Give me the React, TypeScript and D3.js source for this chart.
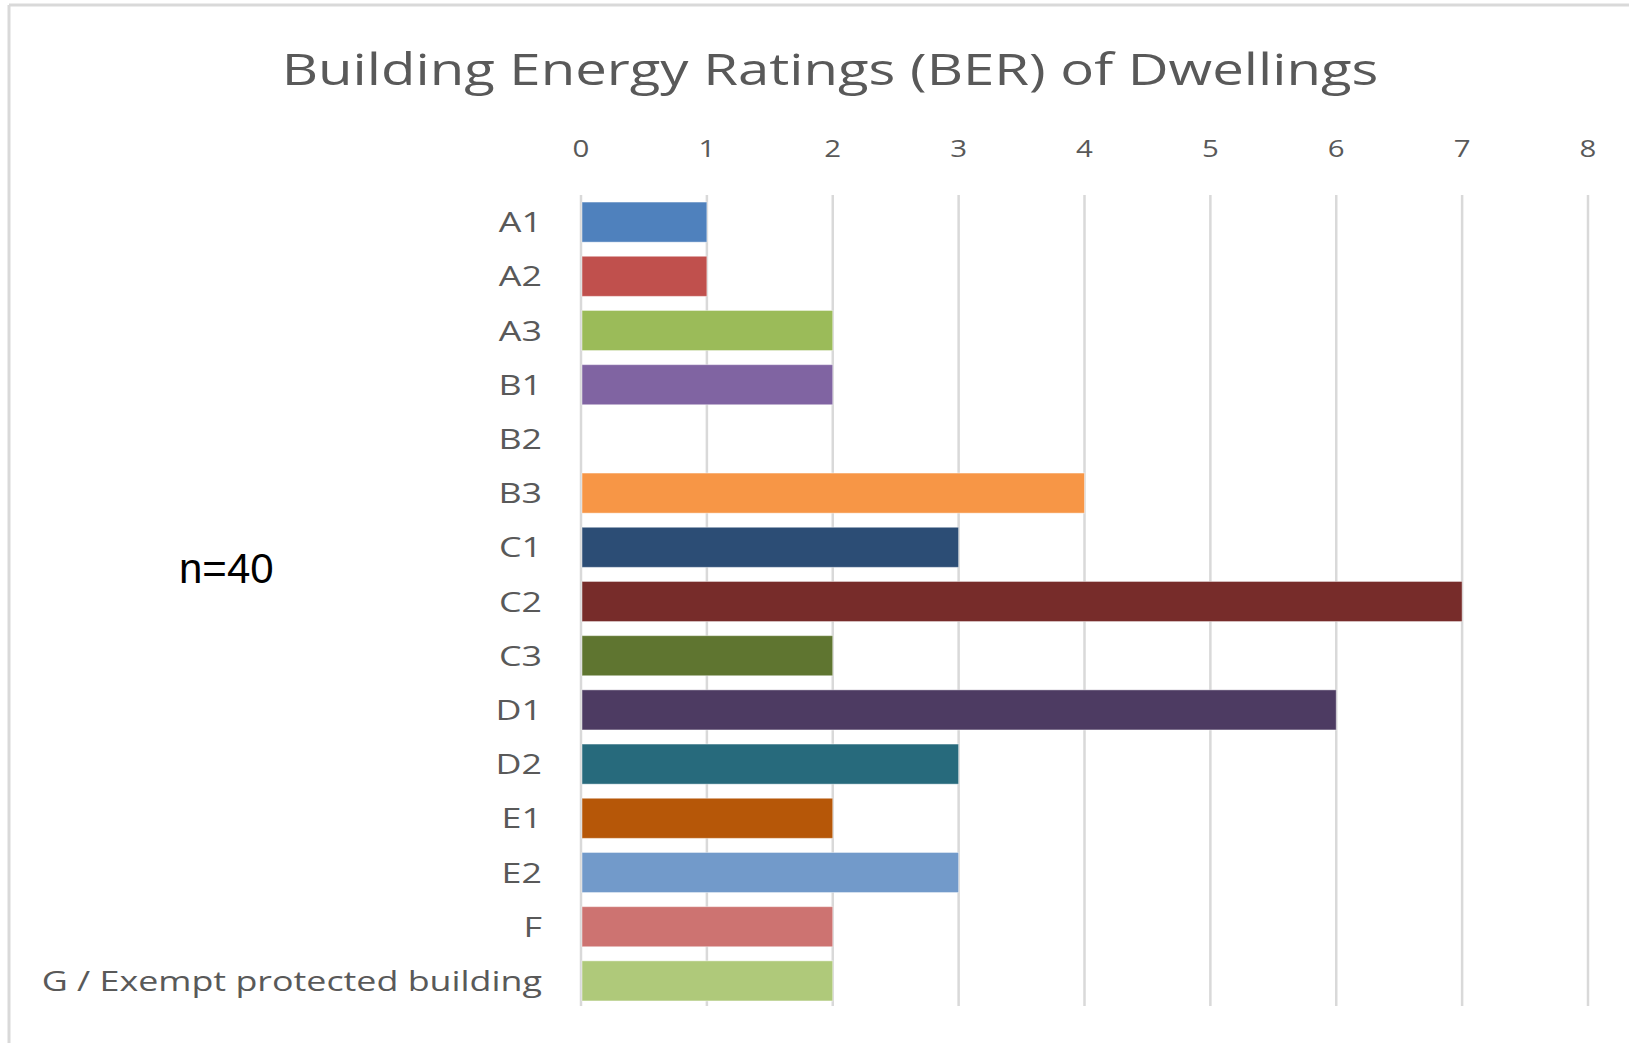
import React from "react";
import * as d3 from "d3";

const categories = ["A1", "A2", "A3", "B1", "B2", "B3", "C1", "C2", "C3", "D1", "D2", "E1", "E2", "F", "G / Exempt protected building"];
const counts = [1, 1, 2, 2, 0, 4, 3, 7, 2, 6, 3, 2, 3, 2, 2];
const barColors = ["#4F81BD", "#C0504D", "#9BBB59", "#8064A2", "#4BACC6", "#F79646", "#2C4D75", "#772C2A", "#5F7530", "#4D3B62", "#276A7C", "#B65708", "#729ACA", "#CD7371", "#AFC97A"];
const xTicks = [0, 1, 2, 3, 4, 5, 6, 7, 8];
const title = "Building Energy Ratings (BER) of Dwellings";
const note = "n=40";

const W = 1629;
const H = 1043;
const FONT = "'Open Sans', 'Noto Sans', sans-serif";
const SX = 1.28;

function StretchText({ x, y, anchor, size, children, dy }: any) {
  return (
    <g transform={`translate(${x},${y}) scale(${SX},1)`}>
      <text x={0} y={0} dy={dy} textAnchor={anchor} fontSize={size} fill="#595959">{children}</text>
    </g>
  );
}

export default function App() {
  const x = d3.scaleLinear().domain([0, 8]).range([581, 1588]);
  const y = d3.scaleBand<string>().domain(categories).range([195, 1008]).paddingInner(0.26).paddingOuter(0.13);

  return (
    <svg width={W} height={H} style={{ position: "absolute", left: 0, top: 0, background: "#fff" }} fontFamily={FONT}>
      <rect x={0} y={0} width={W} height={H} fill="#fff" />
      <line x1={9} x2={W} y1={5} y2={5} stroke="#d9d9d9" strokeWidth={3} />
      <line x1={9} x2={9} y1={5} y2={H} stroke="#d9d9d9" strokeWidth={3} />

      <StretchText x={830} y={85} anchor="middle" size={44}>{title}</StretchText>

      {xTicks.map((t) => (
        <g key={t}>
          <line x1={x(t)} x2={x(t)} y1={195} y2={1006} stroke="#d9d9d9" strokeWidth={2.5} />
          <StretchText x={x(t)} y={157} anchor="middle" size={23}>{t}</StretchText>
        </g>
      ))}

      {categories.map((c, i) => (
        <g key={c}>
          {counts[i] > 0 && (
            <rect
              x={x(0) + 1}
              y={y(c)!}
              width={x(counts[i]) - x(0) - 1}
              height={y.bandwidth()}
              fill={barColors[i]}
              stroke="#ffffff"
              strokeOpacity={0.45}
              strokeWidth={1}
            />
          )}
          <StretchText x={542} y={y(c)! + y.bandwidth() / 2} dy="0.36em" anchor="end" size={28}>{c}</StretchText>
        </g>
      ))}

      <text x={179} y={583} fontSize={42} fill="#000" fontFamily="'Liberation Sans', 'Open Sans', sans-serif">{note}</text>
    </svg>
  );
}
